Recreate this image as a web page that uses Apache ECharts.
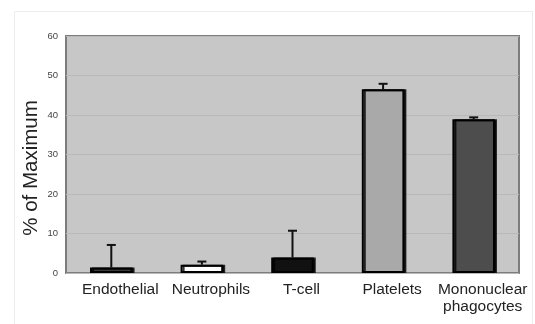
<!DOCTYPE html>
<html>
<head>
<meta charset="utf-8">
<script src="https://cdn.jsdelivr.net/npm/echarts@6/dist/echarts.min.js"></script>
<style>
  html, body { margin: 0; padding: 0; background: #ffffff; }
  #chart { width: 535px; height: 324px; }
</style>
</head>
<body>
<div id="chart"></div>
<script>
// Cell types and their response as a percentage of maximum
var categories = ['Endothelial', 'Neutrophils', 'T-cell', 'Platelets', 'Mononuclear\nphagocytes'];
var values = [1.4, 2.1, 3.9, 46.5, 38.9];
// Upper end of each error bar
var errorTops = [7.1, 2.9, 10.7, 47.9, 39.4];
var barColors = ['#3a3a3a', '#ffffff', '#111111', '#a9a9a9', '#4d4d4d'];
var yTicks = [0, 10, 20, 30, 40, 50, 60];
var yTitle = '% of Maximum';

var chart = echarts.init(document.getElementById('chart'), null, { renderer: 'canvas' });

var barData = values.map(function (v, i) {
  return { value: v, itemStyle: { color: barColors[i] } };
});
var errData = values.map(function (v, i) { return [i, v, errorTops[i]]; });

chart.setOption({
  animation: false,
  backgroundColor: '#ffffff',
  graphic: [
    {
      type: 'rect',
      shape: { x: 14.5, y: 11.5, width: 518, height: 320 },
      style: { fill: 'none', stroke: '#ededed', lineWidth: 1 },
      silent: true,
      z: -10
    },
    {
      type: 'text',
      x: 31, y: 168,
      rotation: Math.PI / 2,
      style: {
        text: yTitle,
        fill: '#222',
        font: '20.5px "Liberation Sans", Arial, sans-serif',
        textAlign: 'center',
        textVerticalAlign: 'middle'
      },
      silent: true
    }
  ],
  grid: {
    left: 66, top: 36, right: 16, bottom: 51,
    containLabel: false,
    outerBoundsMode: 'none',
    show: true,
    backgroundColor: '#c7c7c7',
    borderColor: '#7d7d7d',
    borderWidth: 2
  },
  xAxis: {
    type: 'category',
    data: categories,
    axisLine: { show: false },
    axisTick: { show: false },
    axisLabel: {
      color: '#222',
      fontFamily: 'Liberation Sans, Arial, sans-serif',
      fontSize: 15.5,
      margin: 8,
      lineHeight: 17,
      interval: 0,
      width: 140,
      overflow: 'none',
      padding: [0, 0, 0, 18]
    }
  },
  yAxis: {
    type: 'value',
    min: yTicks[0],
    max: yTicks[yTicks.length - 1],
    interval: 10,
    axisLine: { show: false },
    axisTick: { show: false },
    axisLabel: {
      color: '#444',
      fontFamily: 'Liberation Sans, Arial, sans-serif',
      fontSize: 9.5,
      margin: 8
    },
    splitLine: { lineStyle: { color: '#b9b9b9', width: 1 } }
  },
  series: [
    {
      type: 'bar',
      data: barData,
      barWidth: '47%',
      itemStyle: {
        borderColor: '#000',
        borderWidth: 2,
        shadowColor: 'rgba(0,0,0,0.8)',
        shadowOffsetX: 2,
        shadowOffsetY: 0,
        shadowBlur: 0
      },
      z: 2
    },
    {
      type: 'custom',
      data: errData,
      z: 3,
      renderItem: function (params, api) {
        var x = api.value(0);
        var base = api.coord([x, api.value(1)]);
        var top = api.coord([x, api.value(2)]);
        var half = 4.5;
        var st = { stroke: '#111', lineWidth: 2, fill: 'none' };
        return {
          type: 'group',
          children: [
            { type: 'line', shape: { x1: base[0], y1: base[1], x2: top[0], y2: top[1] }, style: st },
            { type: 'line', shape: { x1: top[0] - half, y1: top[1], x2: top[0] + half, y2: top[1] }, style: st }
          ]
        };
      }
    }
  ]
});
</script>
</body>
</html>
